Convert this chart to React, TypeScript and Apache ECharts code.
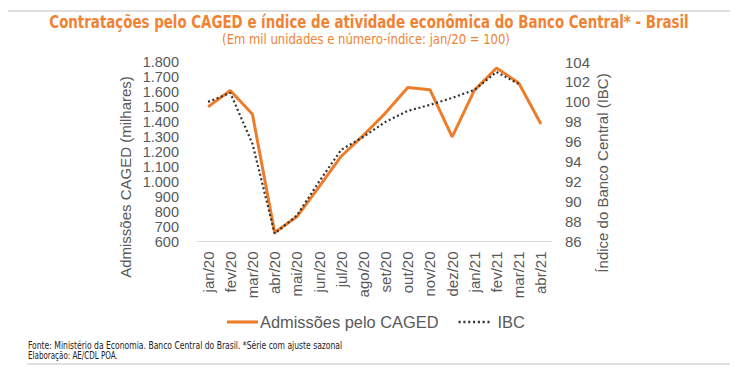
import React, { useEffect, useRef } from "react";
import * as echarts from "echarts";

const months = ["jan/20","fev/20","mar/20","abr/20","mai/20","jun/20","jul/20","ago/20","set/20","out/20","nov/20","dez/20","jan/21","fev/21","mar/21","abr/21"];
const caged = [1500,1610,1450,660,765,965,1170,1310,1460,1630,1615,1300,1610,1760,1660,1385];
const ibc: (number | null)[] = [100.0,100.9,95.8,86.8,88.6,92.0,95.2,96.5,98.0,99.1,99.7,100.4,101.2,103.0,101.8,null];

const TITLE = "Contratações pelo CAGED e índice de atividade econômica do Banco Central* - Brasil";
const SUBTITLE = "(Em mil unidades e número-índice: jan/20 = 100)";
const FOOT1 = "Fonte: Ministério da Economia. Banco Central do Brasil. *Série com ajuste sazonal";
const FOOT2 = "Elaboração: AE/CDL POA.";
const LEFT_NAME = "Admissões CAGED (milhares)";
const RIGHT_NAME = "Índice do Banco Central (IBC)";
const S1 = "Admissões pelo CAGED";
const S2 = "IBC";

const ORANGE = "#EE7D2B";
const TITLE_ORANGE = "#F08333";
const GRAY = "#595959";
const DOT = "#333333";
const NARROW = "'Liberation Sans Narrow', 'DejaVu Sans Condensed', Roboto, sans-serif";
const SANS = "'Liberation Sans', Arial, sans-serif";

function measure(text: string, font: string) {
  const c = document.createElement("canvas");
  const ctx = c.getContext("2d")!;
  ctx.font = font;
  return ctx.measureText(text).width;
}

function dottedIcon() {
  let d = "";
  for (let i = 0; i < 7; i++) {
    const x = i * 4.6;
    d += `M${x},5 L${x + 2},5 L${x + 2},7.2 L${x},7.2 Z `;
  }
  return "path://" + d.trim();
}

export default function App() {
  const ref = useRef<HTMLDivElement>(null);
  useEffect(() => {
    document.body.style.margin = "0";
    const chart = echarts.init(ref.current!, null, { renderer: "svg" });
    const tW = measure(TITLE, `bold 17px ${NARROW}`);
    const sW = measure(SUBTITLE, `13.5px ${NARROW}`);
    const f1W = measure(FOOT1, `10px ${NARROW}`);
    const f2W = measure(FOOT2, `10px ${NARROW}`);
    const fScale = 315 / f1W;
    chart.setOption({
      animation: false,
      grid: { left: 197, right: 185, top: 62, bottom: 129.5 },
      xAxis: {
        type: "category",
        data: months,
        boundaryGap: true,
        axisLine: { lineStyle: { color: "#d9d9d9", width: 1 } },
        axisTick: { show: false },
        axisLabel: { rotate: 90, color: GRAY, fontSize: 15, fontFamily: SANS, margin: 10, interval: 0, lineHeight: 15 },
      },
      yAxis: [
        {
          type: "value", min: 600, max: 1800, interval: 100,
          splitLine: { show: false }, axisLine: { show: false }, axisTick: { show: false },
          axisLabel: {
            color: GRAY, fontSize: 14.5, fontFamily: SANS, margin: 18, lineHeight: 13,
            formatter: (v: number) => v >= 1000 ? `${Math.floor(v / 1000)}.${String(v % 1000).padStart(3, "0")}` : String(v),
          },
        },
        {
          type: "value", min: 86, max: 104, interval: 2,
          splitLine: { show: false }, axisLine: { show: false }, axisTick: { show: false },
          axisLabel: { color: GRAY, fontSize: 15, fontFamily: SANS, margin: 13, lineHeight: 15 },
        },
      ],
      legend: {
        top: 309,
        left: 222,
        itemGap: 20,
        itemWidth: 31,
        itemHeight: 12,
        textStyle: { color: GRAY, fontSize: 16.4, fontFamily: SANS, padding: [0, 0, 0, -3] },
        data: [
          { name: S1, icon: "path://M0,4.6 L30,4.6 L30,7.6 L0,7.6 Z", itemStyle: { color: ORANGE } },
          { name: S2, icon: dottedIcon(), itemStyle: { color: DOT }, textStyle: { padding: [0, 0, 0, 3] } },
        ],
      },
      series: [
        {
          name: S1, type: "line", data: caged, yAxisIndex: 0, symbol: "none",
          lineStyle: { color: ORANGE, width: 3 }, itemStyle: { color: ORANGE },
        },
        {
          name: S2, type: "line", data: ibc, yAxisIndex: 1, symbol: "none",
          lineStyle: { color: DOT, width: 2.2, type: [2, 2.6] }, itemStyle: { color: DOT },
        },
      ],
      graphic: [
        { type: "line", shape: { x1: 8, y1: 11, x2: 730, y2: 11 }, style: { stroke: "#bfbfbf", lineWidth: 1 } },
        { type: "line", shape: { x1: 27, y1: 364, x2: 730, y2: 364 }, style: { stroke: "#bfbfbf", lineWidth: 1 } },
        {
          type: "text", x: 369, y: 22, scaleX: 640 / tW,
          style: { text: TITLE, fill: TITLE_ORANGE, font: `bold 17px ${NARROW}`, align: "center", verticalAlign: "middle" },
        },
        {
          type: "text", x: 366, y: 39.5, scaleX: 288 / sW,
          style: { text: SUBTITLE, fill: TITLE_ORANGE, font: `13.5px ${NARROW}`, align: "center", verticalAlign: "middle" },
        },
        {
          type: "text", x: 28, y: 345, scaleX: fScale,
          style: { text: FOOT1, fill: "#222", font: `10px ${NARROW}`, align: "left", verticalAlign: "middle" },
        },
        {
          type: "text", x: 28, y: 355.5, scaleX: 90 / f2W,
          style: { text: FOOT2, fill: "#222", font: `10px ${NARROW}`, align: "left", verticalAlign: "middle" },
        },
        {
          type: "text", x: 125, y: 177, rotation: Math.PI / 2,
          style: { text: LEFT_NAME, fill: GRAY, font: `15px ${SANS}`, align: "center", verticalAlign: "middle" },
        },
        {
          type: "text", x: 602, y: 173, rotation: Math.PI / 2,
          style: { text: RIGHT_NAME, fill: GRAY, font: `15px ${SANS}`, align: "center", verticalAlign: "middle" },
        },
      ],
    });
    return () => chart.dispose();
  }, []);
  return <div ref={ref} style={{ position: "absolute", left: 0, top: 0, width: 737, height: 371 }} />;
}
